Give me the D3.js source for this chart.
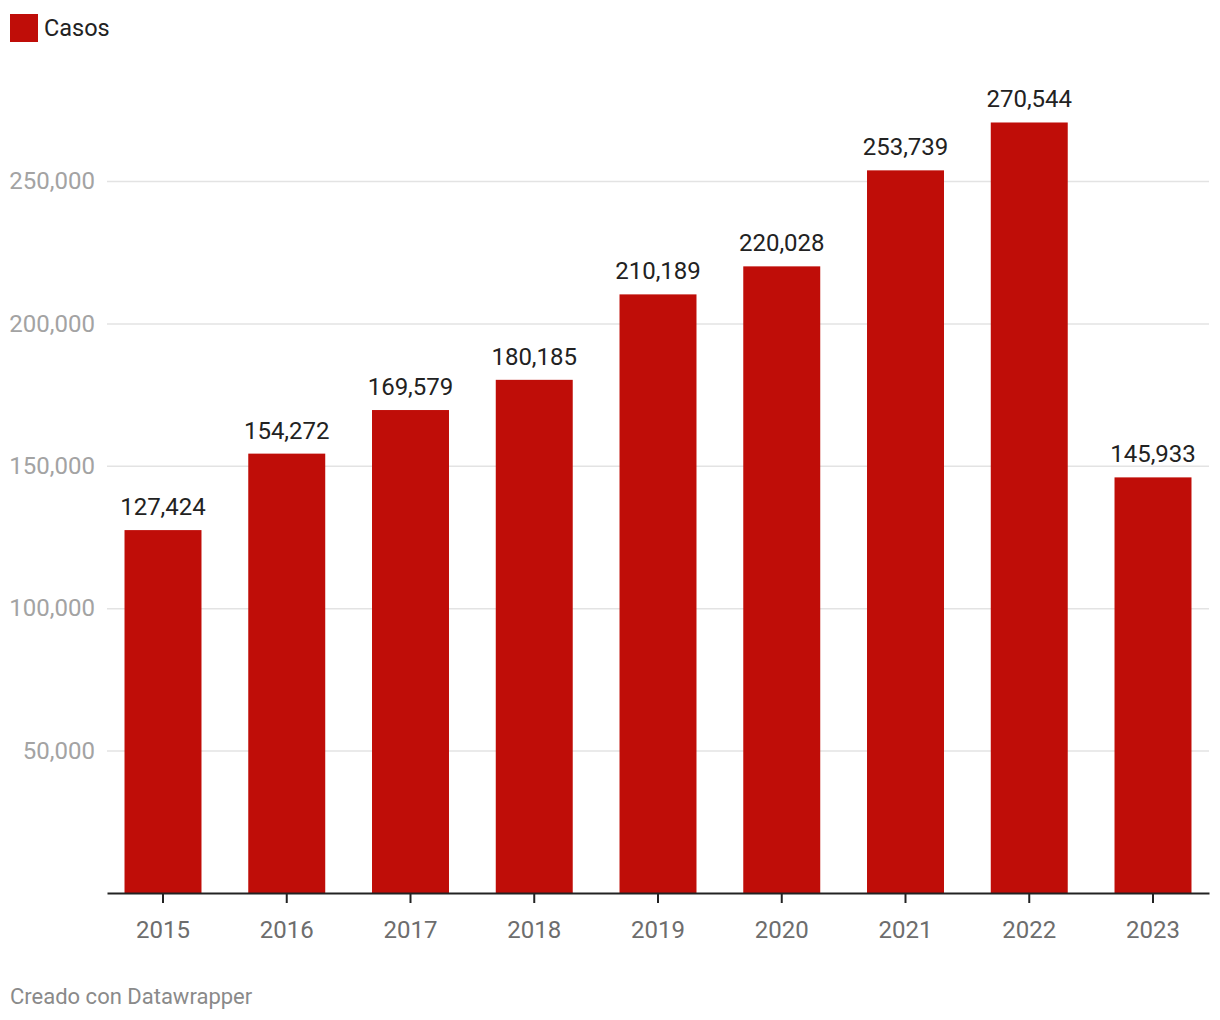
<!DOCTYPE html>
<html>
<head>
<meta charset="utf-8">
<script src="https://cdn.jsdelivr.net/npm/d3@7"></script>
<style>
  html, body { margin: 0; padding: 0; background: #fff; }
  svg { display: block; font-family: Roboto, "Noto Sans", sans-serif; }
</style>
</head>
<body>
<svg id="chart" width="1220" height="1020"></svg>
<script>
const years = ["2015", "2016", "2017", "2018", "2019", "2020", "2021", "2022", "2023"];
const casos = [127424, 154272, 169579, 180185, 210189, 220028, 253739, 270544, 145933];
const yTicks = [50000, 100000, 150000, 200000, 250000];
const seriesName = "Casos";
const footerText = "Creado con Datawrapper";

const svg = d3.select("#chart");
const red = "#bf0d08";
const fmt = d3.format(",");

const x = d3.scaleBand().domain(years).range([107, 1209]).paddingInner(0.378).paddingOuter(0.1415);
const y = d3.scaleLinear().domain([0, 250000]).range([893, 181]);

// legend
svg.append("rect").attr("x", 10).attr("y", 14).attr("width", 28).attr("height", 28).attr("fill", red);
svg.append("text").attr("x", 44).attr("y", 36).attr("font-size", 23.5).attr("fill", "#222").text(seriesName);

// gridlines + y labels
const yAxis = svg.append("g").attr("transform", "translate(107,0)")
  .call(d3.axisLeft(y).tickValues(yTicks).tickFormat(fmt).tickSize(-1102).tickPadding(12));
yAxis.select(".domain").remove();
yAxis.selectAll(".tick line").attr("stroke", "#e3e3e3").attr("stroke-width", 1.5);
yAxis.selectAll(".tick text").attr("font-size", 24).attr("fill", "#a3a3a3").attr("font-family", "Roboto, sans-serif");

// bars
svg.append("g").selectAll("rect").data(years).join("rect")
  .attr("x", d => x(d)).attr("width", x.bandwidth())
  .attr("y", (d, i) => y(casos[i])).attr("height", (d, i) => y(0) - y(casos[i]))
  .attr("fill", red);

// value labels
svg.append("g").selectAll("text").data(years).join("text")
  .attr("x", d => x(d) + x.bandwidth() / 2)
  .attr("y", (d, i) => y(casos[i]) - 15)
  .attr("text-anchor", "middle").attr("font-size", 24).attr("fill", "#222")
  .text((d, i) => fmt(casos[i]));

// x axis
const xAxis = svg.append("g").attr("transform", "translate(0,893)")
  .call(d3.axisBottom(x).tickSize(10).tickPadding(18).tickSizeOuter(0));
xAxis.select(".domain").attr("stroke", "#222").attr("stroke-width", 2);
xAxis.selectAll(".tick line").attr("stroke", "#222").attr("stroke-width", 2);
xAxis.selectAll(".tick text").attr("font-size", 24).attr("fill", "#6d6d6d").attr("font-family", "Roboto, sans-serif");

// footer
svg.append("text").attr("x", 10).attr("y", 1004).attr("font-size", 22).attr("fill", "#8a8a8a").text(footerText);
</script>
</body>
</html>
